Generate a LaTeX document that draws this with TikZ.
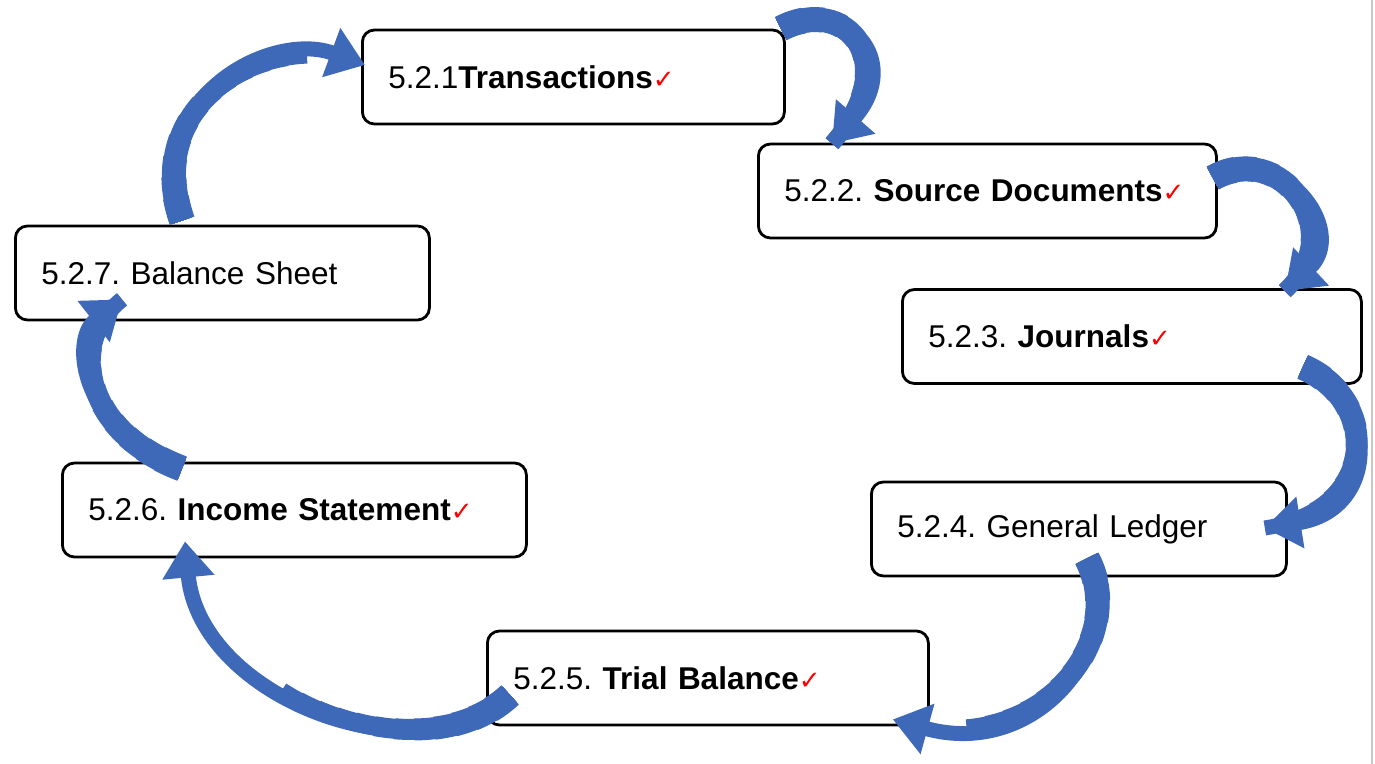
\documentclass[tikz,border=0pt]{standalone}
\usepackage{fontspec}
\setmainfont{Liberation Sans}
\newfontfamily\tickfont{DejaVu Sans}
\usetikzlibrary{arrows.meta,calc}
\definecolor{flowblue}{RGB}{62,104,184}
\newcommand{\tick}{{\tickfont\fontsize{13}{13}\selectfont\color{red}✓}}

\begin{document}
\frenchspacing
\begin{tikzpicture}[x=0.5pt,y=-0.5pt,
    stage/.style={draw, line width=1.4pt, rounded corners=6pt, anchor=west,
      minimum height=47pt, inner xsep=13pt, align=left,
      font=\fontsize{15.75}{19}\selectfont},
    flow/.style={draw=flowblue, line width=7pt, -{Triangle[width=25pt,length=18pt]}}]
  \useasboundingbox (0,0) rectangle (1375,764);
  \draw[gray!45, line width=0.6pt] (1372,0) -- (1372,764);

  \node[stage, text width=185pt] (t1) at (361,77) {\mbox{5.2.1\textbf{Transactions}\tick}};
  \node[stage, text width=203pt] (t2) at (757,191) {\mbox{5.2.2. \textbf{Source Documents}\tick}};
  \node[stage, text width=203.5pt] (t3) at (901,336.5) {\mbox{5.2.3. \textbf{Journals}\tick}};
  \node[stage, text width=181.5pt] (t4) at (870,529) {\mbox{5.2.4. General Ledger}};
  \node[stage, text width=194.5pt] (t5) at (486,678) {\mbox{5.2.5. \textbf{Trial Balance}\tick}};
  \node[stage, text width=206pt] (t6) at (61,510) {\mbox{5.2.6. \textbf{Income Statement}\tick}};
  \node[stage, text width=181pt] (t7) at (14,273) {\mbox{5.2.7. Balance Sheet}};

  \coordinate (s1) at ($(t1.north east)+(-5,0)$);
  \coordinate (e1) at ($(t2.north west)+(75,1)$);
  \coordinate (a1) at (845,-5); \coordinate (b1) at (905,60);
  \coordinate (s2) at ($(t2.east)+(-5,-13)$);
  \coordinate (e2) at ($(t3.north east)+(-78,3)$);
  \coordinate (a2) at (1280,140); \coordinate (b2) at (1350,230);
  \coordinate (s3) at ($(t3.south east)+(-60,-18)$);
  \coordinate (e3) at ($(t4.east)+(-23,-1)$);
  \coordinate (a3) at (1380,400); \coordinate (b3) at (1380,510);
  \coordinate (s4) at ($(t4.south)+(8,-19)$);
  \coordinate (e4) at ($(t5.south east)+(-37,-7)$);
  \coordinate (a4) at (1130,640); \coordinate (b4) at (1040,760);
  \coordinate (s5) at ($(t5.west)+(24,17)$);
  \coordinate (e5) at ($(t6.south west)+(124,-17)$);
  \coordinate (a5) at (420,780); \coordinate (b5) at (200,700);
  \coordinate (s6) at ($(t6.north west)+(121,7)$);
  \coordinate (e6) at ($(t7.south west)+(108,-22)$);
  \coordinate (a6) at (80,430); \coordinate (b6) at (70,340);
  \coordinate (s7) at ($(t7.north west)+(168,-4)$);
  \coordinate (e7) at ($(t1.west)+(4,-12)$);
  \coordinate (a7) at (140,100); \coordinate (b7) at (270,30);

  \foreach \i in {1,...,7} {
    \foreach \k in {0,...,11}
      \draw[flowblue, line width=13pt-0.5pt*\k, dash pattern=on 12pt+10pt*\k off 3000pt]
        (s\i) .. controls (a\i) and (b\i) .. (e\i);
    \draw[flow, line width=7.5pt] (s\i) .. controls (a\i) and (b\i) .. (e\i);
  }
\end{tikzpicture}
\end{document}
